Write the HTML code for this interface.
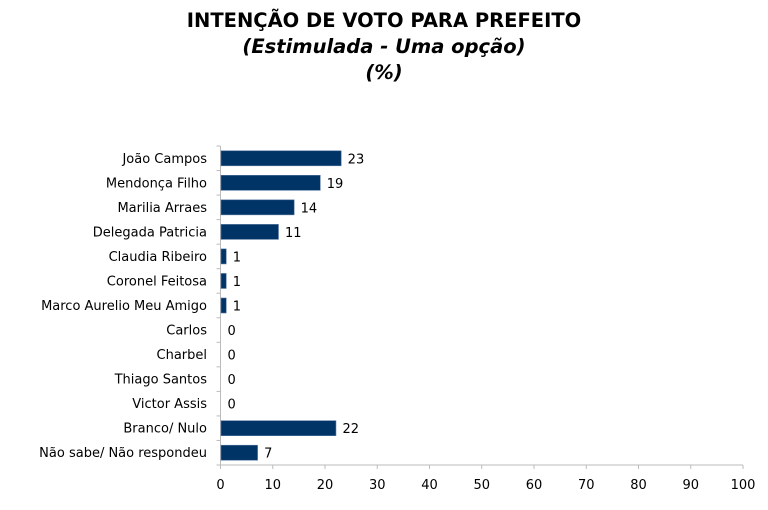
<!DOCTYPE html>
<html><head><meta charset="utf-8"><style>
body{margin:0;background:#fff;width:768px;height:510px;overflow:hidden;font-family:"DejaVu Sans","Liberation Sans",sans-serif}
.t{position:absolute;left:0;width:768px;text-align:center;font-weight:bold;color:#000}
</style></head><body>
<div class="t" style="top:9px;font-size:19.5px">INTENÇÃO DE VOTO PARA PREFEITO</div>
<div class="t" style="top:35px;font-size:19.5px;font-style:italic">(Estimulada - Uma opção)</div>
<div class="t" style="top:61px;font-size:19.5px;font-style:italic">(%)</div>
<svg id="c" width="768" height="510" style="position:absolute;left:0;top:0"></svg>
<script>
const categories=["João Campos","Mendonça Filho","Marilia Arraes","Delegada Patricia","Claudia Ribeiro","Coronel Feitosa","Marco Aurelio Meu Amigo","Carlos","Charbel","Thiago Santos","Victor Assis","Branco/ Nulo","Não sabe/ Não respondeu"];
const values=[23,19,14,11,1,1,1,0,0,0,0,22,7];
const ticks=[0,10,20,30,40,50,60,70,80,90,100];
const svg=document.getElementById('c');const NS='http://www.w3.org/2000/svg';
const x0=220.5,x1=743,yTop=146,yBot=465,n=categories.length,rh=(yBot-yTop)/n;
const x=v=>x0+(x1-x0)*v/100;
function el(t,a,p){const e=document.createElementNS(NS,t);for(const k in a)e.setAttribute(k,a[k]);(p||svg).appendChild(e);return e;}
const ax=el('line',{x1:x0,y1:yTop,x2:x0,y2:yBot,stroke:'#bbb'});


const bx=el('line',{x1:x0,y1:yBot,x2:x1,y2:yBot,stroke:'#bbb'});


for(let i=0;i<=n;i++){el('line',{x1:x0-4,y1:yTop+i*rh,x2:x0,y2:yTop+i*rh,stroke:'#bbb'});}
ticks.forEach(t=>{el('line',{x1:x(t),y1:yBot,x2:x(t),y2:yBot+4,stroke:'#bbb'});
const tx=el('text',{x:x(t),y:yBot+24,'text-anchor':'middle','font-size':13,'font-family':'DejaVu Sans,Liberation Sans,sans-serif'});tx.textContent=t;

});
categories.forEach((c,i)=>{const cy=yTop+(i+0.5)*rh;
const l=el('text',{x:207,y:cy+4.5,'text-anchor':'end','font-size':13,'font-family':'DejaVu Sans,Liberation Sans,sans-serif'});l.textContent=c;


if(values[i]>0){const b=el('rect',{x:x0+0.5,y:cy-7.5,width:x(values[i])-x0,height:15,fill:'#003366',stroke:'#5577a0','stroke-width':0.6});

}
const v=el('text',{x:x(values[i])+7,y:cy+5,'font-size':13,'font-family':'DejaVu Sans,Liberation Sans,sans-serif'});v.textContent=values[i];

});
</script>
</body></html>
